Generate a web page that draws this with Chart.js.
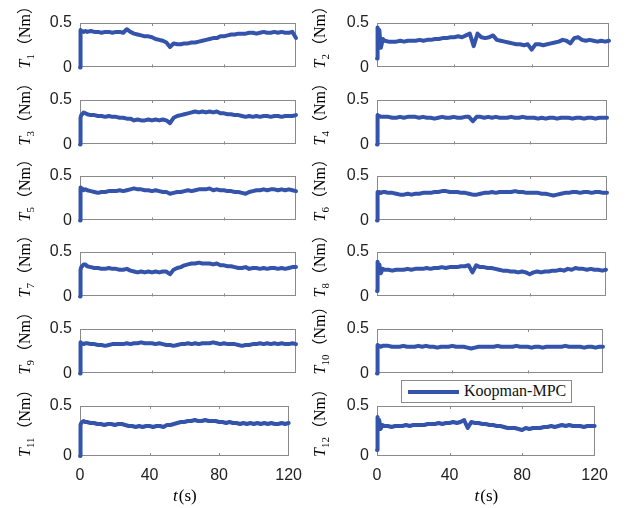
<!DOCTYPE html>
<html>
<head>
<meta charset="utf-8">
<script src="https://cdn.jsdelivr.net/npm/chart.js@4.4.1/dist/chart.umd.min.js"></script>
<style>
  body { margin: 0; background: #fff; }
  #fig { position: relative; width: 627px; height: 508px; overflow: hidden; }
  .cell { position: absolute; }
  #legend {
    position: absolute; left: 401px; top: 380px; width: 169px; height: 21px;
    border: 1px solid #8a8a8a; background: #fff; z-index: 5;
  }
  #legend .swatch { position: absolute; left: 6px; top: 9px; width: 51px; height: 4px; background: #3453ab; }
  #legend .txt {
    position: absolute; left: 62px; top: 1px; line-height: 20px;
    font: 16px "Liberation Serif", "Times New Roman", serif; color: #111;
  }
</style>
</head>
<body>
<div id="fig">
  <div id="legend"><span class="swatch"></span><span class="txt">Koopman-MPC</span></div>
</div>
<script>
// time axis (s)
const tSec = [0, 0.3, 0.7, 1.2, 2, 3, 4,
  6, 8, 10, 12, 14, 16, 18, 20,
  22, 24, 26, 28, 30, 32, 34, 36, 38, 40,
  42, 44, 46, 48, 50, 52, 54, 56, 58, 60,
  62, 64, 66, 68, 70, 72, 74, 76, 78, 80,
  82, 84, 86, 88, 90, 92, 94, 96, 98, 100,
  102, 104, 106, 108, 110, 112, 114, 116, 118, 120];

const xTicks = [0, 40, 80, 120];
const yTicks = [0, 0.5];
const seriesLabel = 'Koopman-MPC';

// joint torques (Nm)
const T1 = [0, 0.42, 0.40, 0.41, 0.40, 0.41, 0.40,
  0.41, 0.40, 0.40, 0.39, 0.40, 0.40, 0.39, 0.40,
  0.40, 0.39, 0.43, 0.40, 0.38, 0.37, 0.36, 0.35, 0.35, 0.34,
  0.32, 0.31, 0.30, 0.28, 0.23, 0.27, 0.26, 0.26, 0.27, 0.27,
  0.28, 0.28, 0.29, 0.30, 0.31, 0.32, 0.33, 0.33, 0.35, 0.35,
  0.36, 0.37, 0.37, 0.38, 0.38, 0.38, 0.39, 0.39, 0.38, 0.39,
  0.40, 0.39, 0.39, 0.40, 0.39, 0.40, 0.39, 0.39, 0.40, 0.33];
const T2 = [0.10, 0.45, 0.30, 0.42, 0.22, 0.32, 0.30,
  0.29, 0.29, 0.29, 0.30, 0.29, 0.30, 0.30, 0.30,
  0.31, 0.30, 0.31, 0.31, 0.32, 0.32, 0.33, 0.33, 0.34, 0.34,
  0.35, 0.34, 0.36, 0.38, 0.24, 0.38, 0.34, 0.33, 0.34, 0.36,
  0.31, 0.30, 0.29, 0.28, 0.27, 0.26, 0.26, 0.25, 0.26, 0.20,
  0.26, 0.26, 0.25, 0.26, 0.27, 0.28, 0.29, 0.31, 0.30, 0.27,
  0.33, 0.34, 0.31, 0.30, 0.31, 0.30, 0.29, 0.30, 0.29, 0.30];
const T3 = [0, 0.30, 0.33, 0.34, 0.36, 0.35, 0.34,
  0.33, 0.33, 0.32, 0.32, 0.31, 0.32, 0.31, 0.31,
  0.30, 0.30, 0.29, 0.29, 0.27, 0.28, 0.27, 0.27, 0.28, 0.27,
  0.28, 0.27, 0.28, 0.27, 0.24, 0.30, 0.32, 0.33, 0.34, 0.35,
  0.36, 0.37, 0.36, 0.37, 0.36, 0.37, 0.36, 0.37, 0.35, 0.35,
  0.34, 0.34, 0.33, 0.33, 0.32, 0.31, 0.32, 0.31, 0.32, 0.31,
  0.32, 0.32, 0.31, 0.32, 0.32, 0.31, 0.32, 0.32, 0.32, 0.33];
const T4 = [0, 0.33, 0.31, 0.32, 0.31, 0.31, 0.31,
  0.31, 0.30, 0.30, 0.31, 0.30, 0.31, 0.31, 0.31,
  0.30, 0.31, 0.30, 0.30, 0.29, 0.30, 0.31, 0.30, 0.30, 0.31,
  0.30, 0.30, 0.31, 0.31, 0.26, 0.31, 0.31, 0.30, 0.31, 0.30,
  0.31, 0.30, 0.30, 0.30, 0.31, 0.30, 0.30, 0.31, 0.30, 0.30,
  0.30, 0.29, 0.30, 0.29, 0.30, 0.30, 0.29, 0.30, 0.30, 0.30,
  0.29, 0.30, 0.30, 0.29, 0.30, 0.30, 0.29, 0.30, 0.30, 0.30];
const T5 = [0, 0.37, 0.34, 0.36, 0.34, 0.35, 0.34,
  0.33, 0.32, 0.31, 0.32, 0.32, 0.33, 0.33, 0.33,
  0.34, 0.33, 0.34, 0.35, 0.36, 0.35, 0.35, 0.34, 0.34, 0.33,
  0.34, 0.33, 0.32, 0.32, 0.30, 0.31, 0.32, 0.32, 0.33, 0.34,
  0.33, 0.34, 0.35, 0.35, 0.35, 0.36, 0.34, 0.35, 0.34, 0.34,
  0.33, 0.33, 0.32, 0.32, 0.31, 0.30, 0.32, 0.33, 0.34, 0.34,
  0.35, 0.34, 0.35, 0.35, 0.34, 0.35, 0.34, 0.35, 0.34, 0.33];
const T6 = [0, 0.32, 0.30, 0.32, 0.31, 0.32, 0.32,
  0.31, 0.31, 0.30, 0.29, 0.29, 0.30, 0.29, 0.30,
  0.30, 0.31, 0.31, 0.31, 0.32, 0.32, 0.33, 0.33, 0.32, 0.32,
  0.32, 0.31, 0.31, 0.30, 0.29, 0.29, 0.30, 0.31, 0.31, 0.32,
  0.31, 0.32, 0.32, 0.32, 0.32, 0.33, 0.32, 0.32, 0.31, 0.31,
  0.31, 0.31, 0.30, 0.30, 0.29, 0.28, 0.29, 0.30, 0.31, 0.31,
  0.32, 0.32, 0.31, 0.32, 0.32, 0.31, 0.32, 0.32, 0.31, 0.31];
const T7 = [0, 0.30, 0.33, 0.34, 0.36, 0.36, 0.34,
  0.33, 0.32, 0.32, 0.31, 0.31, 0.32, 0.31, 0.31,
  0.30, 0.30, 0.31, 0.29, 0.28, 0.27, 0.28, 0.27, 0.28, 0.27,
  0.28, 0.27, 0.28, 0.28, 0.25, 0.30, 0.32, 0.33, 0.35, 0.36,
  0.37, 0.37, 0.38, 0.37, 0.37, 0.37, 0.36, 0.37, 0.35, 0.35,
  0.34, 0.34, 0.33, 0.32, 0.32, 0.33, 0.31, 0.32, 0.32, 0.31,
  0.32, 0.31, 0.32, 0.32, 0.31, 0.32, 0.31, 0.32, 0.33, 0.33];
const T8 = [0.06, 0.39, 0.30, 0.36, 0.26, 0.31, 0.30,
  0.30, 0.29, 0.30, 0.30, 0.30, 0.31, 0.30, 0.31,
  0.31, 0.31, 0.32, 0.31, 0.32, 0.32, 0.33, 0.32, 0.33, 0.33,
  0.33, 0.34, 0.34, 0.35, 0.27, 0.35, 0.33, 0.33, 0.32, 0.32,
  0.31, 0.30, 0.29, 0.29, 0.28, 0.28, 0.27, 0.28, 0.27, 0.25,
  0.27, 0.28, 0.27, 0.28, 0.28, 0.29, 0.29, 0.30, 0.29, 0.31,
  0.30, 0.32, 0.31, 0.31, 0.30, 0.31, 0.30, 0.30, 0.29, 0.30];
const T9 = [0, 0.35, 0.33, 0.34, 0.33, 0.34, 0.34,
  0.33, 0.33, 0.32, 0.32, 0.31, 0.32, 0.33, 0.33,
  0.33, 0.33, 0.34, 0.33, 0.34, 0.34, 0.35, 0.34, 0.34, 0.34,
  0.33, 0.34, 0.33, 0.32, 0.32, 0.31, 0.32, 0.33, 0.33, 0.34,
  0.33, 0.34, 0.33, 0.34, 0.34, 0.34, 0.35, 0.34, 0.33, 0.34,
  0.33, 0.33, 0.33, 0.32, 0.31, 0.32, 0.32, 0.33, 0.33, 0.34,
  0.33, 0.34, 0.33, 0.34, 0.33, 0.34, 0.33, 0.33, 0.34, 0.33];
const T10 = [0, 0.32, 0.30, 0.31, 0.30, 0.31, 0.31,
  0.31, 0.30, 0.30, 0.30, 0.31, 0.30, 0.30, 0.30,
  0.31, 0.30, 0.31, 0.30, 0.30, 0.29, 0.30, 0.30, 0.30, 0.31,
  0.30, 0.30, 0.30, 0.29, 0.28, 0.29, 0.30, 0.30, 0.30, 0.30,
  0.30, 0.31, 0.30, 0.30, 0.30, 0.30, 0.31, 0.30, 0.30, 0.30,
  0.29, 0.30, 0.30, 0.29, 0.30, 0.30, 0.30, 0.30, 0.30, 0.31,
  0.30, 0.30, 0.30, 0.30, 0.29, 0.30, 0.30, 0.29, 0.30, 0.30];
const T11 = [0, 0.31, 0.33, 0.34, 0.35, 0.34, 0.34,
  0.33, 0.33, 0.32, 0.32, 0.31, 0.32, 0.32, 0.31,
  0.32, 0.32, 0.31, 0.30, 0.30, 0.29, 0.30, 0.29, 0.30, 0.30,
  0.29, 0.30, 0.30, 0.29, 0.31, 0.31, 0.32, 0.33, 0.34, 0.34,
  0.35, 0.35, 0.36, 0.35, 0.35, 0.36, 0.35, 0.35, 0.35, 0.34,
  0.34, 0.33, 0.34, 0.33, 0.33, 0.32, 0.33, 0.32, 0.33, 0.32,
  0.33, 0.32, 0.33, 0.32, 0.33, 0.32, 0.32, 0.33, 0.32, 0.33];
const T12 = [0.06, 0.39, 0.31, 0.36, 0.27, 0.31, 0.30,
  0.30, 0.29, 0.30, 0.30, 0.30, 0.31, 0.30, 0.31,
  0.31, 0.31, 0.31, 0.32, 0.32, 0.32, 0.33, 0.32, 0.33, 0.33,
  0.34, 0.33, 0.34, 0.36, 0.28, 0.34, 0.33, 0.33, 0.32, 0.32,
  0.31, 0.31, 0.30, 0.30, 0.29, 0.28, 0.28, 0.28, 0.27, 0.26,
  0.28, 0.27, 0.28, 0.28, 0.28, 0.29, 0.29, 0.30, 0.29, 0.30,
  0.31, 0.30, 0.31, 0.30, 0.30, 0.30, 0.29, 0.30, 0.30, 0.30];

const torques = [T1, T2, T3, T4, T5, T6, T7, T8, T9, T10, T11, T12];

// subplot layout (px)
const rowTop = [23, 100, 176, 252, 329, 406];
const plotH = 50;
const leftCol = { x0: 80, x1: [296, 296, 296, 296, 296, 296], labelGap: 50 };
const rightCol = { x0: 377, x1: [609, 607, 607, 606, 603, 602], labelGap: 52 };
const AXW = 80, PADT = 30, PADR = 16;

const LINE = '#3453ab';
const FRAME = '#8a8a8a';
const TXT = '#222';

const framePlugin = {
  id: 'frame',
  beforeDatasetsDraw(chart, args, o) {
    const { ctx, chartArea: a } = chart;
    const xs = chart.scales.x;
    ctx.save();
    ctx.strokeStyle = FRAME;
    ctx.lineWidth = 1;
    ctx.strokeRect(Math.round(a.left) + 0.5, Math.round(a.top) + 0.5,
      Math.round(a.right - a.left) - 1, Math.round(a.bottom - a.top) - 1);
    ctx.beginPath();
    xTicks.slice(1, -1).forEach(v => {
      const px = Math.round(xs.getPixelForValue(v)) + 0.5;
      ctx.moveTo(px, a.top); ctx.lineTo(px, a.top + 3);
      ctx.moveTo(px, a.bottom); ctx.lineTo(px, a.bottom - 3);
    });
    ctx.stroke();
    ctx.restore();
  },
  afterDraw(chart, args, o) {
    const { ctx, chartArea: a } = chart;
    ctx.save();
    ctx.fillStyle = '#000';
    ctx.textAlign = 'left';
    ctx.textBaseline = 'alphabetic';
    // y label: T_n（Nm）, rotated
    ctx.translate(a.left - o.labelGap, a.bottom + 1);
    ctx.rotate(-Math.PI / 2);
    let x = 0;
    ctx.font = 'italic 16px "Liberation Serif", serif';
    ctx.fillText('T', 0, 0);
    x += ctx.measureText('T').width;
    ctx.font = '11px "Liberation Serif", serif';
    ctx.fillText(o.sub, x, 4);
    x += ctx.measureText(o.sub).width;
    ctx.font = '16px "Liberation Serif", "Noto Sans CJK SC", serif';
    ctx.fillText('（Nm）', x, 0);
    ctx.restore();

    if (o.xTitle) {
      ctx.save();
      ctx.fillStyle = '#000';
      ctx.textBaseline = 'alphabetic';
      ctx.textAlign = 'left';
      ctx.font = 'italic 17px "Liberation Serif", serif';
      const w1 = ctx.measureText('t').width;
      ctx.font = '17px "Liberation Serif", serif';
      const w2 = ctx.measureText('(s)').width;
      const cx = (a.left + a.right) / 2;
      const sx = cx - (w1 + w2) / 2;
      const by = a.bottom + 45;
      ctx.font = 'italic 17px "Liberation Serif", serif';
      ctx.fillText('t', sx, by);
      ctx.font = '17px "Liberation Serif", serif';
      ctx.fillText('(s)', sx + w1 + 1, by);
      ctx.restore();
    }
  }
};

const fig = document.getElementById('fig');

torques.forEach((vals, i) => {
  const row = Math.floor(i / 2);
  const col = i % 2 === 0 ? leftCol : rightCol;
  const bottomRow = row === rowTop.length - 1;
  const plotW = col.x1[row] - col.x0;
  const w = AXW + plotW + PADR;
  const h = PADT + plotH + (bottomRow ? 50 : 12);

  const cell = document.createElement('div');
  cell.className = 'cell';
  cell.style.left = (col.x0 - AXW) + 'px';
  cell.style.top = (rowTop[row] - PADT) + 'px';
  const cv = document.createElement('canvas');
  cv.width = w; cv.height = h;
  cv.style.width = w + 'px'; cv.style.height = h + 'px';
  cell.appendChild(cv);
  fig.appendChild(cell);

  new Chart(cv, {
    type: 'line',
    data: {
      datasets: [{
        label: seriesLabel,
        data: tSec.map((t, k) => ({ x: t, y: vals[k] })),
        borderColor: LINE,
        borderWidth: 4,
        borderJoinStyle: 'round',
        borderCapStyle: 'round',
        pointRadius: 0,
        tension: 0,
        clip: false
      }]
    },
    options: {
      responsive: false,
      animation: false,
      devicePixelRatio: 1,
      layout: { padding: { top: PADT, right: PADR, left: 0, bottom: bottomRow ? 0 : 12 } },
      plugins: {
        legend: { display: false },
        tooltip: { enabled: false },
        frame: { sub: String(i + 1), labelGap: col.labelGap, xTitle: bottomRow }
      },
      scales: {
        x: {
          type: 'linear',
          min: 0, max: 120,
          display: bottomRow,
          afterBuildTicks: s => { s.ticks = xTicks.map(v => ({ value: v })); },
          afterFit: s => { s.height = bottomRow ? 50 : 0; },
          grid: { display: false, drawTicks: false },
          border: { display: false },
          ticks: {
            padding: 10,
            maxRotation: 0,
            color: TXT,
            font: { family: '"Liberation Sans", Arial, sans-serif', size: 16 }
          }
        },
        y: {
          min: 0, max: 0.5,
          afterBuildTicks: s => { s.ticks = yTicks.map(v => ({ value: v })); },
          afterFit: s => { s.width = AXW; },
          grid: { display: false, drawTicks: false },
          border: { display: false },
          ticks: {
            padding: 8,
            color: TXT,
            font: { family: '"Liberation Sans", Arial, sans-serif', size: 16 },
            callback: v => String(v)
          }
        }
      }
    },
    plugins: [framePlugin]
  });
});
</script>
</body>
</html>
